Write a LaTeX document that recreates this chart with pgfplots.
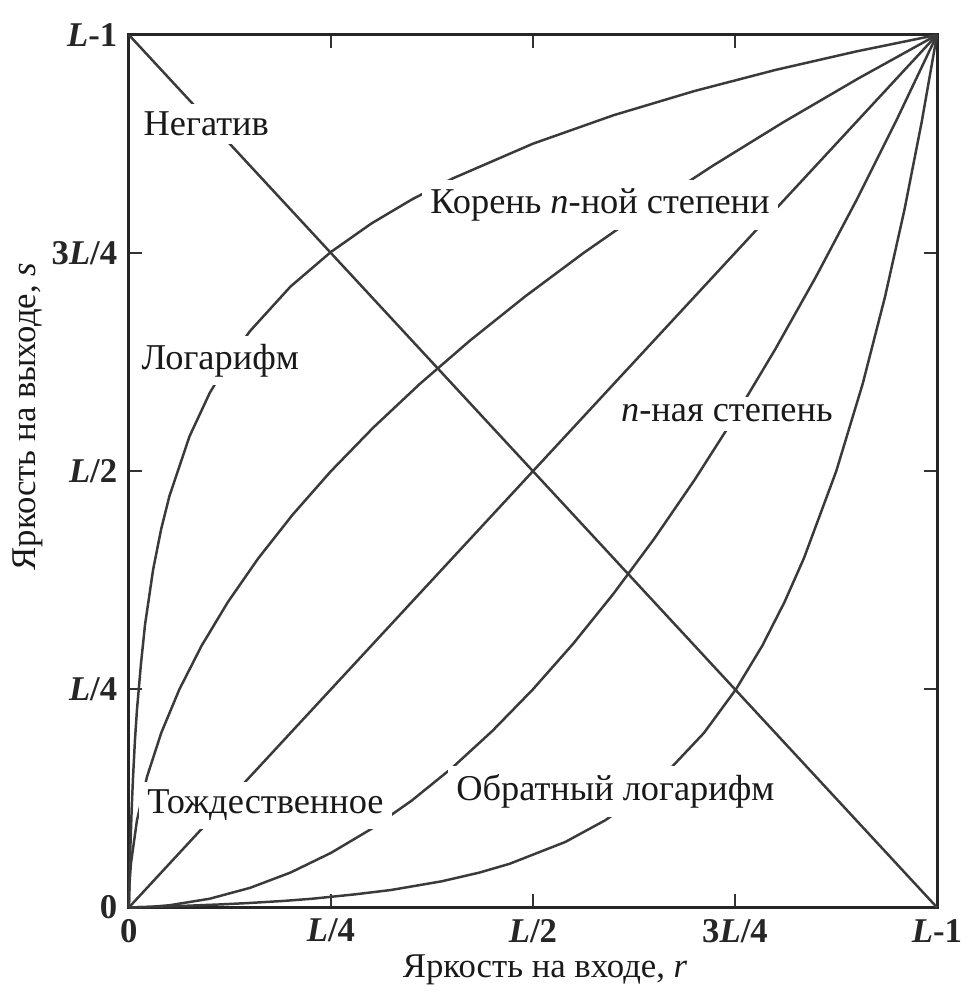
\documentclass[border=0pt]{standalone}
\usepackage{pgfplots}
\pgfplotsset{compat=1.18}
\usepackage{fontspec}
\setmainfont{Liberation Serif}
\definecolor{ln}{HTML}{3A3A3A}
\begin{document}
\begin{tikzpicture}
\begin{axis}[
  scale only axis, width=244.5pt, height=264pt,
  xmin=0, xmax=1, ymin=0, ymax=1,
  axis line style={line width=0.9pt, black!85},
  tick style={line width=0.6pt, black!80},
  major tick length=4pt,
  tick align=inside, xtick pos=both, ytick pos=both,
  xtick={0,0.25,0.5,0.75,1}, ytick={0,0.25,0.5,0.75,1},
  xticklabels={0,\textit{L}/4,\textit{L}/2,3\textit{L}/4,\textit{L}-1},
  yticklabels={0,\textit{L}/4,\textit{L}/2,3\textit{L}/4,\textit{L}-1},
  xticklabel style={font=\fontsize{10.5}{12}\selectfont\bfseries, text=black!85},
  yticklabel style={font=\fontsize{10.5}{12}\selectfont\bfseries, text=black!85},
  xlabel={Яркость на входе, \textit{r}},
  ylabel={Яркость на выходе, \textit{s}},
  xlabel style={at={(axis description cs:0.515,-0.0716)}, anchor=center, font=\fontsize{10.5}{12}\selectfont, text=black!90},
  ylabel style={at={(axis description cs:-0.125,0.5625)}, anchor=center, font=\fontsize{10.5}{12}\selectfont, text=black!90},
  clip=false,
  cycle list={{ln}},
  every axis plot/.append style={line width=0.75pt, solid, no markers, line join=round},
]
% negative
\addplot coordinates {(0,1) (1,0)};
% identity
\addplot coordinates {(0,0) (1,1)};
% log
\addplot coordinates {(0,0) (0.001,0.0404) (0.002,0.0734) (0.0035,0.1138) (0.005,0.1468) (0.0075,0.1918) (0.01,0.2267) (0.015,0.2797) (0.02,0.3243) (0.03,0.3873) (0.04,0.4339) (0.05,0.4710) (0.075,0.5399) (0.1,0.5896) (0.125,0.6282) (0.15,0.6607) (0.2,0.7116) (0.25,0.7512) (0.3,0.7838) (0.35,0.8113) (0.4,0.8352) (0.5,0.8753) (0.6,0.9080) (0.7,0.9357) (0.8,0.9598) (0.9,0.9810) (1,1)};
% inverse log
\addplot coordinates {(0,0) (0.0404,0.001) (0.0734,0.002) (0.1138,0.0035) (0.1468,0.005) (0.1918,0.0075) (0.2267,0.01) (0.2797,0.015) (0.3243,0.02) (0.3873,0.03) (0.4339,0.04) (0.4710,0.05) (0.5399,0.075) (0.5896,0.1) (0.6282,0.125) (0.6607,0.15) (0.7116,0.2) (0.7512,0.25) (0.7838,0.3) (0.8113,0.35) (0.8352,0.4) (0.8753,0.5) (0.9080,0.6) (0.9357,0.7) (0.9598,0.8) (0.9810,0.9) (1,1)};
% n-th root
\addplot coordinates {(0,0) (0.0006,0.025) (0.0025,0.05) (0.01,0.1) (0.0225,0.15) (0.04,0.2) (0.0625,0.25) (0.09,0.3) (0.1225,0.35) (0.16,0.4) (0.2025,0.45) (0.25,0.5) (0.3025,0.55) (0.36,0.6) (0.4225,0.65) (0.49,0.7) (0.5625,0.75) (0.64,0.8) (0.7225,0.85) (0.81,0.9) (0.9025,0.95) (1,1)};
% n-th power
\addplot coordinates {(0,0) (0.025,0.0006) (0.05,0.0025) (0.1,0.01) (0.15,0.0225) (0.2,0.04) (0.25,0.0625) (0.3,0.09) (0.35,0.1225) (0.4,0.16) (0.45,0.2025) (0.5,0.25) (0.55,0.3025) (0.6,0.36) (0.65,0.4225) (0.7,0.49) (0.75,0.5625) (0.8,0.64) (0.85,0.7225) (0.9,0.81) (0.95,0.9025) (1,1)};
\tikzset{lab/.style={fill=white, inner sep=2.5pt, font=\fontsize{11}{13}\selectfont, text=black!90}}
\node[lab] at (axis cs:0.0957,0.898) {Негатив};
\node[lab] at (axis cs:0.583,0.805) {Корень \textit{n}-ной степени};
\node[lab] at (axis cs:0.113,0.627) {Логарифм};
\node[lab] at (axis cs:0.740,0.566) {\textit{n}-ная степень};
\node[lab] at (axis cs:0.169,0.117) {Тождественное};
\node[lab] at (axis cs:0.602,0.133) {Обратный логарифм};
\path (axis cs:-0.1595,-0.092) rectangle (axis cs:1.027,1.040);
\end{axis}
\end{tikzpicture}
\end{document}
